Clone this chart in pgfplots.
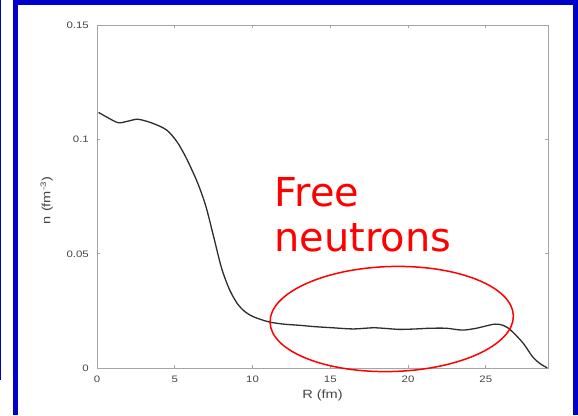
\documentclass[border=0pt]{standalone}
\usepackage{fontspec}
\setmainfont{Liberation Sans}[FakeStretch=1.22]
\newfontfamily\annofont{DejaVu Sans}
\usepackage{pgfplots}
\pgfplotsset{compat=1.18}
\definecolor{slideblue}{RGB}{0,0,204}
\definecolor{axisgray}{RGB}{165,165,165}
\definecolor{labelgray}{RGB}{70,70,70}
\definecolor{curvegray}{RGB}{45,45,45}

\begin{document}
\begin{tikzpicture}[x=1bp,y=1bp]
\useasboundingbox (0,0) rectangle (578,415);
\fill[white] (0,0) rectangle (578,415);
\begin{axis}[
  at={(97bp,46.7bp)}, anchor=south west,
  scale only axis, width=451bp, height=343.3bp,
  xmin=0, xmax=29, ymin=0, ymax=0.15,
  xtick={0,5,...,25}, ytick={0,0.05,0.1,0.15},
  yticklabels={0,0.05,0.1,0.15},
  tick align=inside, major tick length=3bp,
  axis line style={axisgray, line width=0.8bp},
  every tick/.style={axisgray, line width=0.8bp},
  tick label style={font=\fontsize{9.4}{11}\selectfont, text=labelgray, inner sep=0pt},
  xticklabel style={anchor=north, yshift=-7.5bp},
  yticklabel style={anchor=east, xshift=-8bp},
  /pgf/number format/assume math mode=true,
  xlabel={R (fm)}, ylabel={n (fm\textsuperscript{-3})},
  label style={font=\fontsize{12}{14}\selectfont, text=labelgray},
  xlabel style={at={(axis description cs:0.5,-0.0778)}, anchor=center},
  ylabel style={at={(axis description cs:-0.1115,0.4888)}, anchor=center},
]
% density profile n(R)
\addplot[curvegray, line width=1.3bp, smooth, tension=0.5] coordinates {
  (0.1,0.1118) (0.7,0.1095) (1.37,0.1073) (2.0,0.1080) (2.65,0.1088)
  (3.6,0.1070) (4.48,0.1041) (5.12,0.0992) (5.6,0.0937) (6.0,0.0882)
  (6.5,0.0805) (7.0,0.0708) (7.5,0.0575) (8.0,0.0440) (8.5,0.0347)
  (9.0,0.0285) (9.5,0.0248) (10.0,0.0227) (10.5,0.0214)
  (11.1,0.0202) (12.0,0.0193) (13.0,0.0188) (14.0,0.0182)
  (15.18,0.0177) (16.46,0.0172) (17.75,0.0177) (18.6,0.0174) (19.46,0.0170)
  (20.5,0.0172) (21.4,0.0175) (22.46,0.0175) (23.5,0.0167) (24.4,0.0175)
  (25.0,0.0185) (25.6,0.0193) (26.1,0.0188) (26.6,0.0167) (27.4,0.0110)
  (28.0,0.0051) (28.5,0.0020) (28.95,0.0002)
};
\end{axis}
% annotation
\draw[red, line width=1.5bp, rotate around={1.6:(391.7,96)}]
  (391.7,96) ellipse [x radius=121.7bp, y radius=52.5bp];
\node[anchor=base west, inner sep=0pt, text=red,
  font=\annofont\fontsize{40}{40}\selectfont] at (274.5,208.3) {Free};
\node[anchor=base west, inner sep=0pt, text=red,
  font=\annofont\fontsize{40}{40}\selectfont] at (274.5,163.3) {neutrons};
% slide frame
\fill[slideblue] (13.3,0) rectangle (18.3,415);
\fill[slideblue] (13.3,410) rectangle (578,415);
\fill[slideblue] (572.7,0) rectangle (578,415);
\fill[slideblue] (0,35) rectangle (1.3,415);
\end{tikzpicture}
\end{document}
